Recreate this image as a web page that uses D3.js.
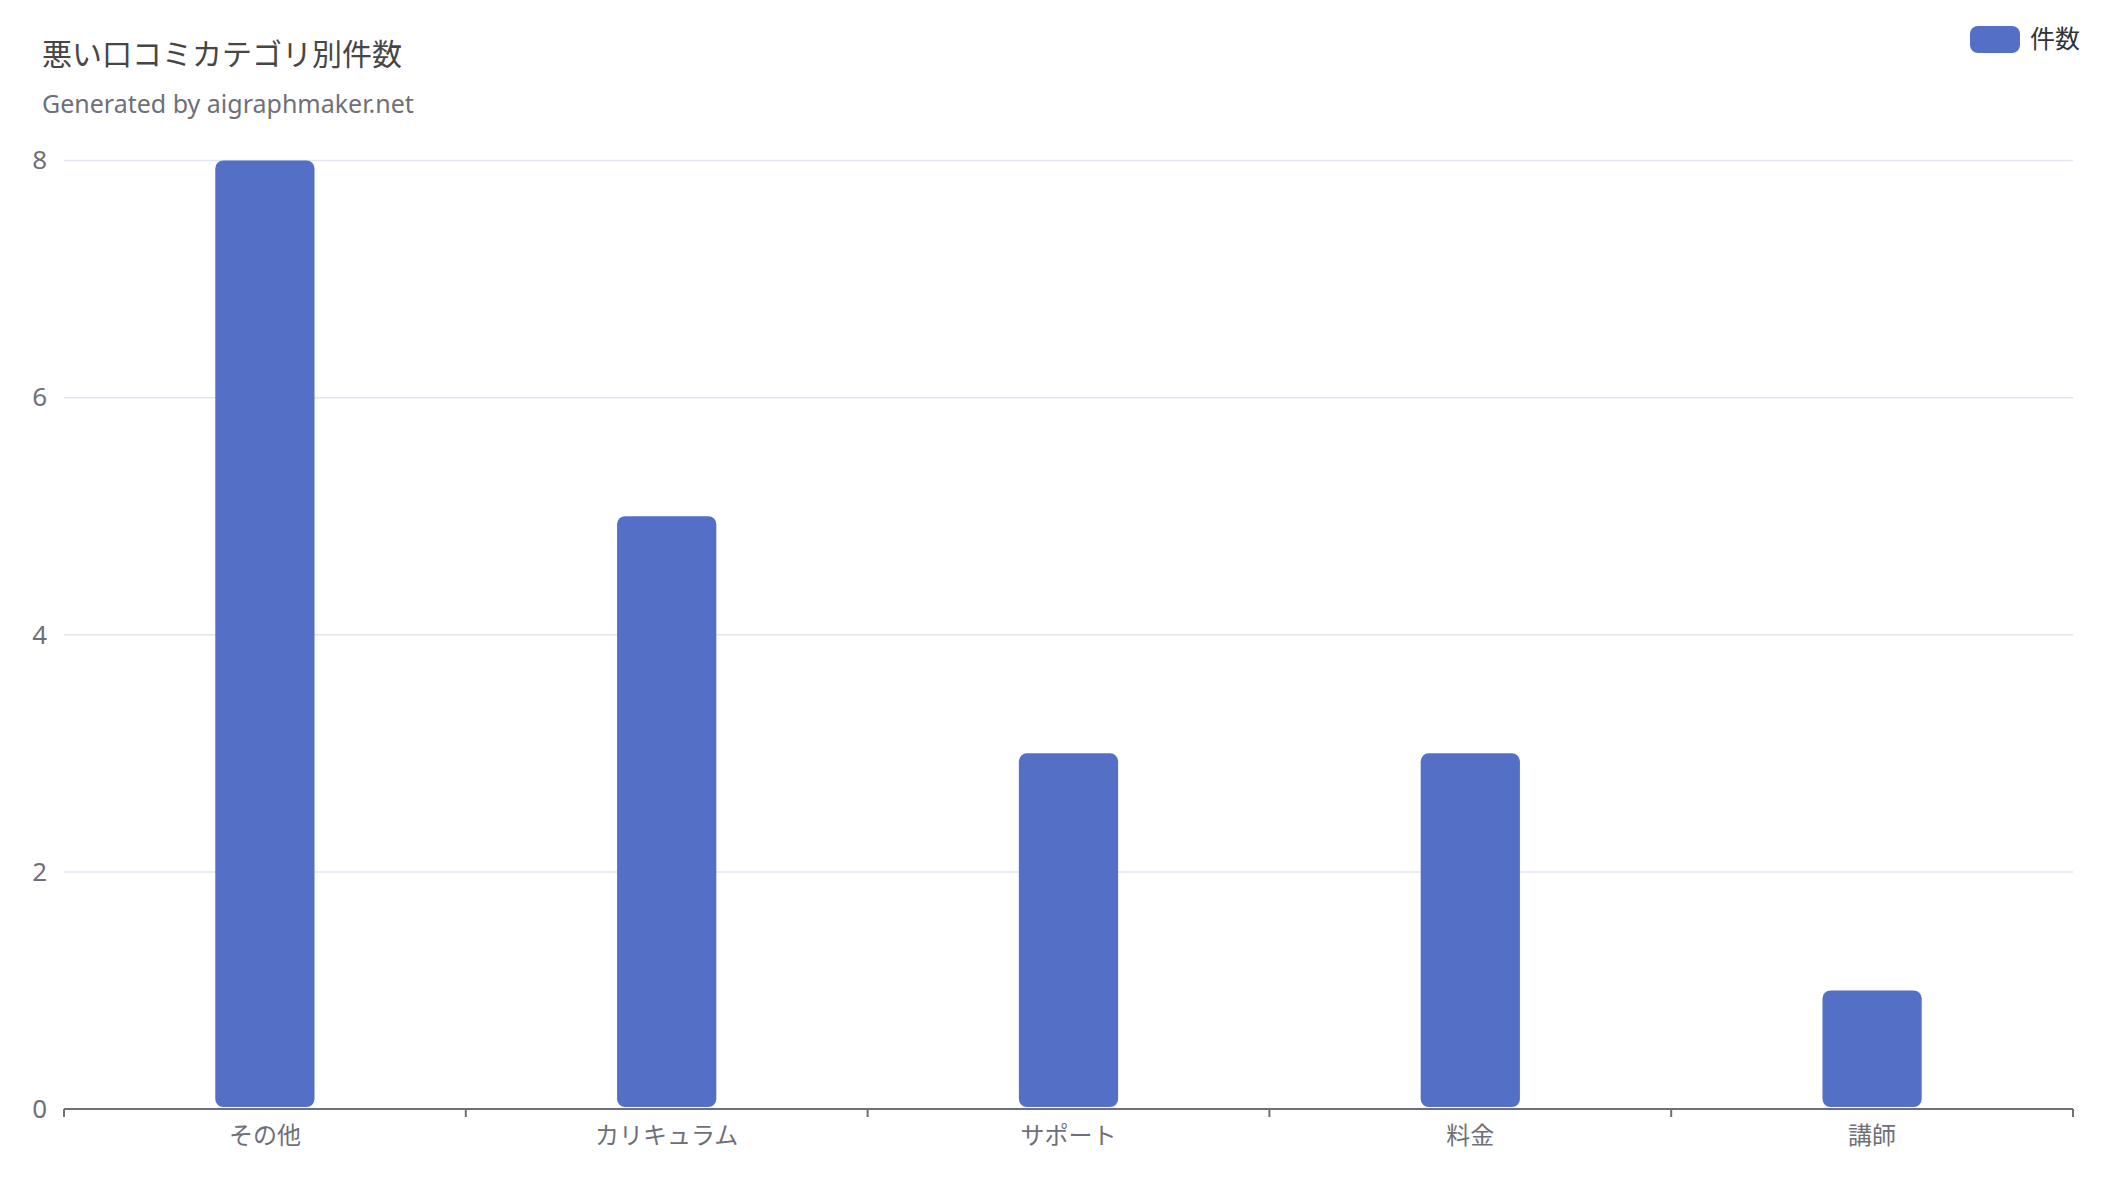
<!DOCTYPE html>
<html lang="ja">
<head>
<meta charset="utf-8">
<title>悪い口コミカテゴリ別件数</title>
<script src="https://cdn.jsdelivr.net/npm/d3@7"></script>
<style>
  html, body { margin: 0; padding: 0; background: #ffffff; }
  svg { display: block; }
  text { font-family: "Noto Sans CJK JP", "Noto Sans", sans-serif; }
</style>
</head>
<body>
<svg id="chart" width="2104" height="1180"></svg>
<script>
// Data
const categories = ["その他", "カリキュラム", "サポート", "料金", "講師"];
const counts = [8, 5, 3, 3, 1];
const yTicks = [0, 2, 4, 6, 8];
const seriesName = "件数";
const titleText = "悪い口コミカテゴリ別件数";
const subtitleText = "Generated by aigraphmaker.net";

const W = 2104, H = 1180;
const margin = { top: 160.5, right: 31, bottom: 71, left: 64 };
const barColor = "#5470c6";
const axisColor = "#6e7079";
const gridColor = "#e0e6f1";
const latinFont = "'Noto Sans', 'Liberation Sans', sans-serif";

const svg = d3.select("#chart");

const x = d3.scaleBand()
  .domain(categories)
  .range([margin.left, W - margin.right])
  .paddingInner(0)
  .paddingOuter(0);

const y = d3.scaleLinear()
  .domain([0, 8])
  .range([H - margin.bottom, margin.top]);

// Horizontal grid lines
svg.append("g")
  .selectAll("line")
  .data(yTicks.filter(d => d !== 0))
  .join("line")
  .attr("x1", margin.left)
  .attr("x2", W - margin.right)
  .attr("y1", d => y(d))
  .attr("y2", d => y(d))
  .attr("stroke", gridColor)
  .attr("stroke-width", 1.5);

// Y axis labels (no axis line)
const yAxis = d3.axisLeft(y).tickValues(yTicks).tickSize(0).tickPadding(17);
const yG = svg.append("g")
  .attr("transform", `translate(${margin.left},0)`)
  .call(yAxis);
yG.select(".domain").remove();
yG.selectAll("text")
  .attr("fill", axisColor)
  .attr("font-size", 26)
  .style("font-family", latinFont);

// Bars, rounded on all corners
const barW = x.bandwidth() * 0.247;
svg.append("g")
  .selectAll("rect")
  .data(categories.map((c, i) => ({ c, v: counts[i] })))
  .join("rect")
  .attr("x", d => x(d.c) + (x.bandwidth() - barW) / 2)
  .attr("y", d => y(d.v))
  .attr("width", barW)
  .attr("height", d => y(0) - y(d.v) - 2)
  .attr("rx", 8)
  .attr("ry", 8)
  .attr("fill", barColor);

// X axis with ticks at band boundaries
const xG = svg.append("g")
  .attr("transform", `translate(0,${y(0)})`);
xG.append("line")
  .attr("x1", margin.left)
  .attr("x2", W - margin.right)
  .attr("stroke", axisColor)
  .attr("stroke-width", 2);
const boundaries = categories.map(c => x(c)).concat([x(categories[categories.length - 1]) + x.bandwidth()]);
xG.selectAll("line.tick")
  .data(boundaries)
  .join("line")
  .attr("class", "tick")
  .attr("x1", d => d)
  .attr("x2", d => d)
  .attr("y1", 0)
  .attr("y2", 8)
  .attr("stroke", axisColor)
  .attr("stroke-width", 2);
xG.selectAll("text")
  .data(categories)
  .join("text")
  .attr("x", d => x(d) + x.bandwidth() / 2)
  .attr("y", 28)
  .attr("text-anchor", "middle")
  .attr("dominant-baseline", "middle")
  .attr("fill", axisColor)
  .attr("font-size", 24)
  .text(d => d);

// Title and subtitle
svg.append("text")
  .attr("x", 42)
  .attr("y", 65)
  .attr("fill", "#464646")
  .attr("font-size", 30)
  .text(titleText);
svg.append("text")
  .attr("x", 42)
  .attr("y", 113)
  .attr("fill", axisColor)
  .attr("font-size", 25)
  .style("font-family", latinFont)
  .text(subtitleText);

// Legend
const legend = svg.append("g").attr("transform", "translate(1970,26)");
legend.append("rect")
  .attr("width", 50)
  .attr("height", 27)
  .attr("rx", 8)
  .attr("ry", 8)
  .attr("fill", barColor);
legend.append("text")
  .attr("x", 60)
  .attr("y", 15)
  .attr("dominant-baseline", "middle")
  .attr("fill", "#333333")
  .attr("font-size", 25)
  .text(seriesName);
</script>
</body>
</html>
